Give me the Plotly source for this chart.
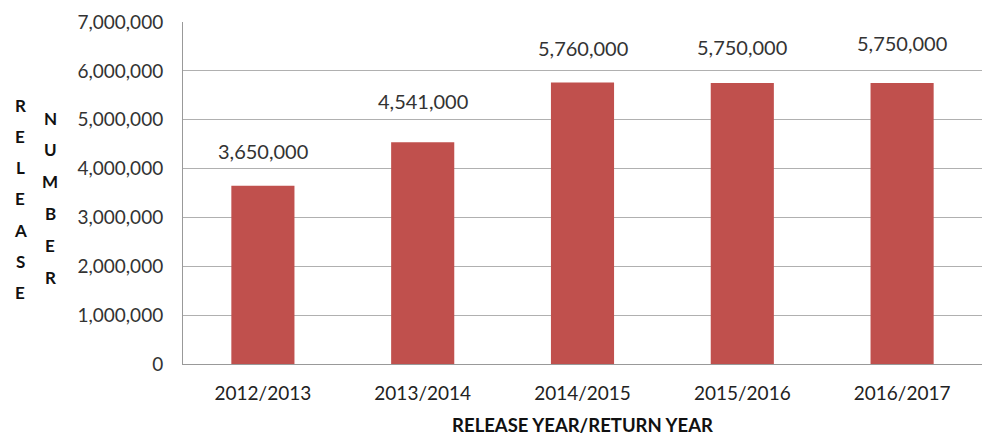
import plotly.graph_objects as go

categories = ["2012/2013", "2013/2014", "2014/2015", "2015/2016", "2016/2017"]
values = [3650000, 4541000, 5760000, 5750000, 5750000]
label_shift = [35, 41, 35, 36, 40]
y_ticks = [0, 1000000, 2000000, 3000000, 4000000, 5000000, 6000000, 7000000]
title_col1 = list("RELEASE")
title_col2 = list("NUMBER")

FONT = "Lato, 'Open Sans', sans-serif"

W, H = 983, 436
ML, MR, MT, MB = 183, 1, 22, 72
PW, PH = W - ML - MR, H - MT - MB

fig = go.Figure()
fig.add_trace(go.Bar(
    x=categories, y=values,
    marker=dict(color="#C0504D", line=dict(width=0)),
    width=0.395,
))

annotations = []
for c, v, s in zip(categories, values, label_shift):
    annotations.append(dict(
        x=c, y=v, xref="x", yref="y", text=f"{v:,}", showarrow=False,
        yshift=s, font=dict(family=FONT, size=20, color="#333333"),
    ))

def px2paper(px, py):
    return (px - ML) / PW, (H - MB - py) / PH

for i, ch in enumerate(title_col1):
    xp, yp = px2paper(20, 105 + i * 31.3)
    annotations.append(dict(
        x=xp, y=yp, xref="paper", yref="paper",
        xanchor="center", yanchor="middle", text=f"<b>{ch}</b>", showarrow=False,
        font=dict(family=FONT, size=17, color="#111111"),
    ))
for i, ch in enumerate(title_col2):
    xp, yp = px2paper(50, 118 + i * 31.8)
    annotations.append(dict(
        x=xp, y=yp, xref="paper", yref="paper",
        xanchor="center", yanchor="middle", text=f"<b>{ch}</b>", showarrow=False,
        font=dict(family=FONT, size=17, color="#111111"),
    ))

fig.update_layout(
    width=W, height=H,
    margin=dict(l=ML, r=MR, t=MT, b=MB),
    paper_bgcolor="white", plot_bgcolor="white",
    showlegend=False,
    annotations=annotations,
    font=dict(family=FONT, size=19, color="#333333"),
    xaxis=dict(
        showline=True, linecolor="#999999", linewidth=1,
        ticks="", ticklabelstandoff=12,
        tickfont=dict(family=FONT, size=19, color="#222222"),
        title=dict(text="<b>RELEASE YEAR/RETURN YEAR</b>", standoff=17,
                   font=dict(family=FONT, size=18.5, color="#111111")),
    ),
    yaxis=dict(
        range=[0, 7000000], tickvals=y_ticks,
        ticktext=[f"{t:,}" for t in y_ticks],
        showline=True, linecolor="#999999", linewidth=1,
        showgrid=True, gridcolor="#b0b0b0", gridwidth=1,
        ticks="", ticklen=0, ticklabelstandoff=15,
        tickfont=dict(family=FONT, size=19, color="#333333"),
        zeroline=False,
    ),
)

fig.write_html("out.html")
